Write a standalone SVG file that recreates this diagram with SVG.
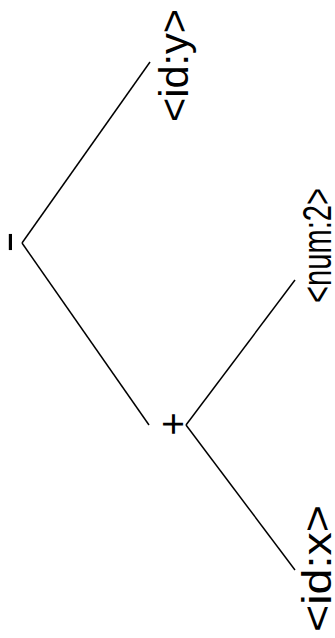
<svg xmlns="http://www.w3.org/2000/svg" width="335" height="638" viewBox="0 0 335 638">
<style>
.lbl{font-family:"Liberation Sans",Arial,sans-serif;font-size:40px;fill:#000;text-anchor:middle}
.edge{stroke:#000;stroke-width:1.5;fill:none}
</style>
<rect width="335" height="638" fill="#fff"/>
<g id="edges">
<line class="edge" x1="22" y1="243" x2="150" y2="62"/>
<line class="edge" x1="22" y1="243" x2="149" y2="425"/>
<line class="edge" x1="186" y1="425" x2="295" y2="280"/>
<line class="edge" x1="186" y1="425" x2="295" y2="570"/>
</g>
<g id="n-minus"><text class="lbl" transform="translate(21,242) rotate(-90)" textLength="22" lengthAdjust="spacingAndGlyphs">-</text></g>
<g id="n-plus"><text class="lbl" transform="translate(187,424) rotate(-90)">+</text></g>
<g id="n-idy"><text class="lbl" transform="translate(188,65.5) rotate(-90)" textLength="113" lengthAdjust="spacingAndGlyphs">&lt;id:y&gt;</text></g>
<g id="n-num2"><text class="lbl" transform="translate(331,245.5) rotate(-90)" textLength="115" lengthAdjust="spacingAndGlyphs">&lt;num:2&gt;</text></g>
<g id="n-idx"><text class="lbl" transform="translate(331,568.5) rotate(-90)" textLength="127" lengthAdjust="spacingAndGlyphs">&lt;id:x&gt;</text></g>
</svg>
